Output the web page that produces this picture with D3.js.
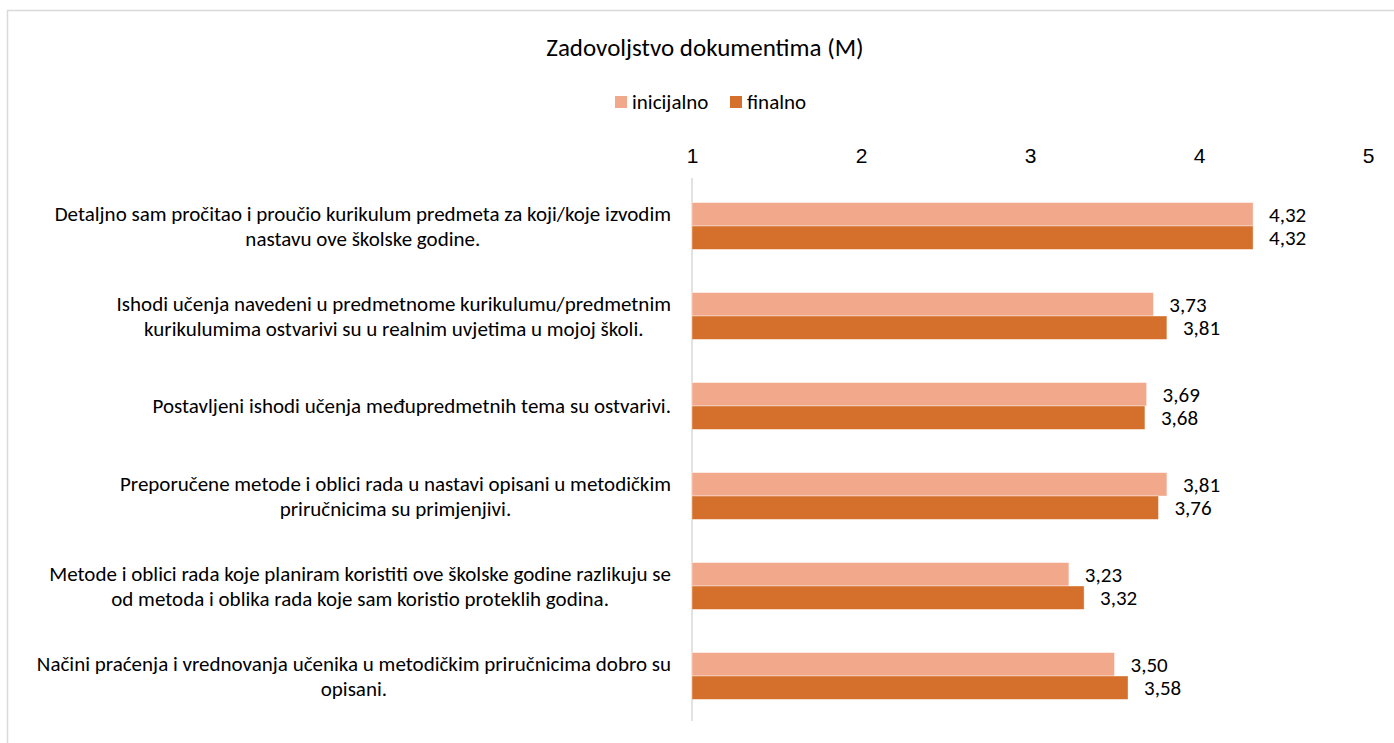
<!DOCTYPE html>
<html>
<head>
<meta charset="utf-8">
<script src="https://cdn.jsdelivr.net/npm/d3@7"></script>
<style>
  html, body { margin: 0; padding: 0; background: #fff; }
  svg { display: block; font-family: Carlito, Lato, "Liberation Sans", sans-serif; }
</style>
</head>
<body>
<svg id="chart" width="1394" height="743"></svg>
<script>
const title = "Zadovoljstvo dokumentima (M)";
const seriesNames = ["inicijalno", "finalno"];
const categories = [
  ["Detaljno sam pročitao i proučio kurikulum predmeta za koji/koje izvodim", "nastavu ove školske godine."],
  ["Ishodi učenja navedeni u predmetnome kurikulumu/predmetnim", "kurikulumima ostvarivi su u realnim uvjetima u mojoj školi."],
  ["Postavljeni ishodi učenja međupredmetnih tema su ostvarivi."],
  ["Preporučene metode i oblici rada u nastavi opisani u metodičkim", "priručnicima su primjenjivi."],
  ["Metode i oblici rada koje planiram koristiti ove školske godine razlikuju se", "od metoda i oblika rada koje sam koristio proteklih godina."],
  ["Načini praćenja i vrednovanja učenika u metodičkim priručnicima dobro su", "opisani."]
];
const inicijalno = [4.32, 3.73, 3.69, 3.81, 3.23, 3.50];
const finalno = [4.32, 3.81, 3.68, 3.76, 3.32, 3.58];
const tickValues = [1, 2, 3, 4, 5];
const colors = ["#F2A98B", "#D4702C"];

const svg = d3.select("#chart");
const fmt = v => d3.format(".2f")(v).replace(".", ",");
const fs = 21;

// frame
svg.append("rect").attr("x", 7.5).attr("y", 10.5).attr("width", 1400).attr("height", 760)
  .attr("fill", "#fff").attr("stroke", "#d9d9d9").attr("stroke-width", 1.5);

// title
svg.append("text").attr("x", 705).attr("y", 56).attr("text-anchor", "middle")
  .attr("font-size", 25).attr("fill", "#000").text(title);

const x = d3.scaleLinear().domain([1, 5]).range([692, 1368]);
const y = d3.scaleBand().domain(d3.range(categories.length)).range([181, 721])
  .paddingInner(0.48).paddingOuter(0.24);
const ySub = d3.scaleBand().domain([0, 1]).range([0, y.bandwidth()]);

// legend
const legend = svg.append("g");
const legendX = [615, 730];
seriesNames.forEach((s, i) => {
  legend.append("rect").attr("x", legendX[i]).attr("y", 96).attr("width", 12).attr("height", 12).attr("fill", colors[i]);
  legend.append("text").attr("x", legendX[i] + 17).attr("y", 102).attr("dy", "0.35em")
    .attr("font-size", fs).attr("fill", "#000").text(s);
});

// top axis
const xAxis = d3.axisTop(x).tickValues(tickValues).tickSize(0).tickPadding(0).tickFormat(d3.format("d"));
const ax = svg.append("g").attr("transform", "translate(0,163)").call(xAxis);
ax.select(".domain").remove();
ax.selectAll("text").attr("font-size", fs).attr("fill", "#000").attr("font-family", null);

// vertical axis line
svg.append("line").attr("x1", x(1)).attr("x2", x(1)).attr("y1", 178).attr("y2", 721)
  .attr("stroke", "#d9d9d9").attr("stroke-width", 1.5);

// bars
const series = [inicijalno, finalno];
series.forEach((vals, si) => {
  const g = svg.append("g");
  g.selectAll("rect").data(vals).join("rect")
    .attr("x", x(1))
    .attr("y", (d, i) => y(i) + ySub(si))
    .attr("width", d => x(d) - x(1))
    .attr("height", ySub.bandwidth())
    .attr("fill", colors[si])
    .attr("stroke", "#fff").attr("stroke-opacity", 0.5).attr("stroke-width", 0.75);
  g.selectAll("text").data(vals).join("text")
    .attr("x", d => x(d) + 16)
    .attr("y", (d, i) => y(i) + ySub(si) + ySub.bandwidth() / 2)
    .attr("dy", "0.35em")
    .attr("font-size", fs).attr("fill", "#000")
    .text(d => fmt(d));
});

// category labels
const lh = 24.5;
categories.forEach((lines, i) => {
  const cy = y(i) + y.bandwidth() / 2;
  const g = svg.append("g");
  const texts = lines.map((l, j) => g.append("text")
    .attr("y", cy + (j - (lines.length - 1) / 2) * lh)
    .attr("dy", "0.35em").attr("font-size", fs).attr("fill", "#000").text(l));
  const widths = texts.map(t => t.node().getComputedTextLength());
  const maxW = d3.max(widths);
  const center = 671 - maxW / 2;
  texts.forEach(t => t.attr("x", center).attr("text-anchor", "middle"));
});
</script>
</body>
</html>
